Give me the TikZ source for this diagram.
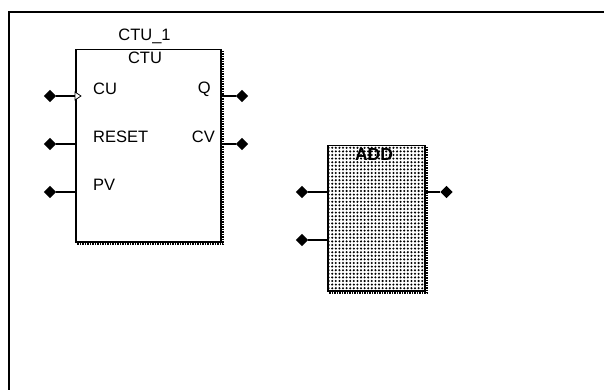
\documentclass[tikz,border=0pt]{standalone}
\usepackage{fontspec}
\setmainfont{Liberation Sans}
\usepackage{tikz}
\usetikzlibrary{arrows.meta,positioning,shapes.geometric,patterns,calc}
\pgfdeclarepatternformonly{blockdots}{\pgfqpoint{-1.2pt}{-1.2pt}}{\pgfqpoint{4pt}{4pt}}{\pgfqpoint{3.6pt}{3.6pt}}{%
  \pgfpathcircle{\pgfqpoint{1pt}{1pt}}{1.15pt}\pgfusepath{fill}}

\begin{document}
\begin{tikzpicture}[x=1pt,y=-1pt,
  fb/.style={draw,line width=1.5pt,anchor=north west,inner sep=0pt},
  shade line/.style={line width=2pt,dash pattern=on 1.5pt off 1pt},
  pin/.style={diamond,fill=black,inner sep=0pt,minimum width=12.5pt,minimum height=12.5pt},
  lbl/.style={font=\fontsize{16.5pt}{18pt}\selectfont,inner sep=0pt},
  wire/.style={line width=1.3pt}]
\useasboundingbox (0,0) rectangle (604,390);
% outer frame
\coordinate (fa) at (9,390);
\coordinate (fb1) at (9,12);
\coordinate (fc) at (604,12);
\draw[line width=2.2pt] (fa) -- (fb1) -- (fc);
% counter block
\node[fb,minimum width=145pt,minimum height=192pt] (ctu) at (75,49) {};
\draw[shade line] ($(ctu.north east)+(1.5,2)$) -- ($(ctu.south east)+(1.5,1.5)$) -- ($(ctu.south west)+(1,1.5)$);
\node[lbl,anchor=base] (name) at (144.5,41) {CTU\_1};
\node[lbl,anchor=base] (type) at (145,64) {CTU};
\node[lbl,anchor=west] (cu) at (93,89) {CU};
\node[lbl,anchor=west] (reset) at (93,137) {RESET};
\node[lbl,anchor=west] (pv) at (93,185) {PV};
\node[lbl,anchor=east] (q) at (211,89) {Q};
\node[lbl,anchor=east] (cv) at (215,137) {CV};
\node[pin] (i1) at (50,96) {};
\node[pin] (i2) at (50,144) {};
\node[pin] (i3) at (50,192) {};
\node[pin] (o1) at (242,96) {};
\node[pin] (o2) at (242,144) {};
\draw[wire] (i1) -- (i1-|ctu.west);
\draw[wire] (i2) -- (i2-|ctu.west);
\draw[wire] (i3) -- (i3-|ctu.west);
\draw[wire] (o1) -- (o1-|ctu.east);
\draw[wire] (o2) -- (o2-|ctu.east);
% rising edge mark
\draw[line width=.7pt,fill=white] (75,92) -- (81,96) -- (75,100) -- cycle;
% add block
\node[fb,pattern=blockdots,pattern color=black,minimum width=97pt,minimum height=145pt] (add) at (327,145) {};
\draw[shade line] ($(add.north east)+(1.5,2)$) -- ($(add.south east)+(1.5,1.5)$) -- ($(add.south west)+(1,1.5)$);
\node[lbl,font=\fontsize{17.5pt}{18pt}\selectfont\bfseries] (addtype) at (374,154) {ADD};
\node[pin] (a1) at (302,192) {};
\node[pin] (a2) at (302,240) {};
\node[pin] (a3) at (446.5,192) {};
\draw[wire] (a1) -- (a1-|add.west);
\draw[wire] (a2) -- (a2-|add.west);
\draw[wire] (a3) -- (a3-|add.east);
\end{tikzpicture}
\end{document}
